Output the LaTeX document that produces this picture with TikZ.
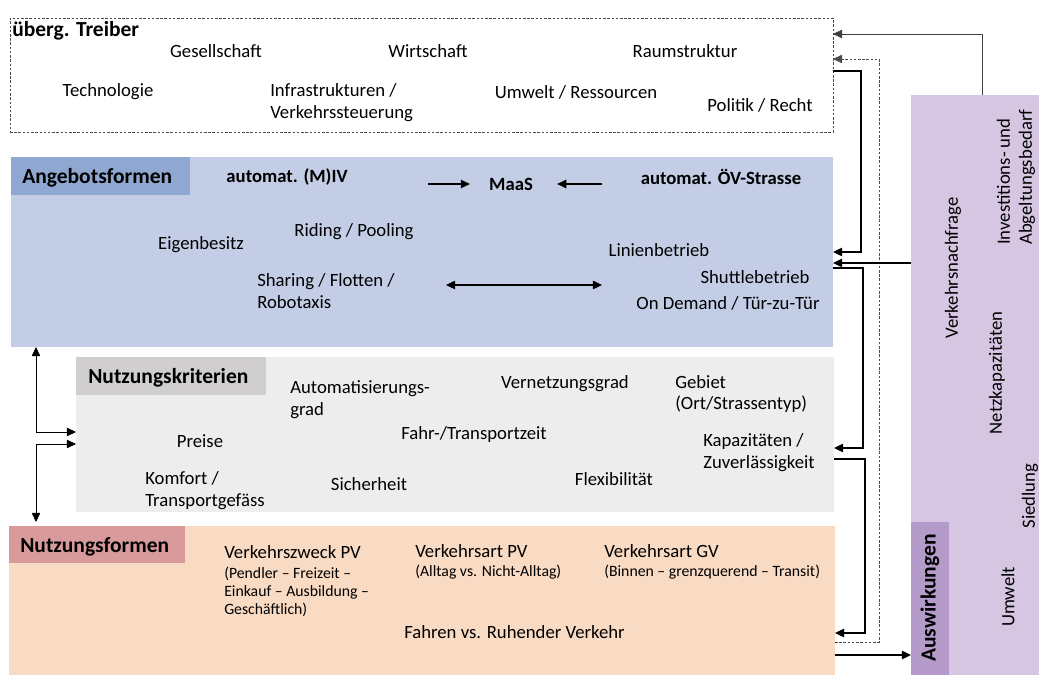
\documentclass[tikz,border=0pt]{standalone}
\usepackage{fontspec}
\setmainfont{Carlito}
\usetikzlibrary{arrows.meta,fit}
\definecolor{angebotBg}{HTML}{C3CDE5}
\definecolor{angebotHd}{HTML}{8FA8D2}
\definecolor{kritBg}{HTML}{EDEDED}
\definecolor{kritHd}{HTML}{D0CECE}
\definecolor{formBg}{HTML}{F9DAC3}
\definecolor{formHd}{HTML}{D99A9C}
\definecolor{wirkBg}{HTML}{D6C6E2}
\definecolor{wirkHd}{HTML}{B59BCA}
\tikzset{
  txt/.style={font=\fontsize{13.3}{15.6}\selectfont, inner sep=0pt, align=left},
  txtb/.style={txt, font=\fontsize{13.3}{15.6}\selectfont\bfseries},
  sm/.style={font=\fontsize{11.2}{12.9}\selectfont, inner sep=0pt, align=left},
  hd/.style={font=\fontsize{15.3}{18}\selectfont\bfseries, inner sep=0pt},
  area/.style={inner sep=0pt, outer sep=0pt, draw=none},
  arr/.style={-{Triangle[length=6.5pt,width=6pt]}},
  twoarr/.style={{Triangle[length=6.5pt,width=6pt]}-{Triangle[length=6.5pt,width=6pt]}},
  dotline/.style={draw=black!70, dash pattern=on 1.8pt off 1.2pt, thin},
  conn/.style={line width=1pt},
}
\begin{document}
\begin{tikzpicture}[x=0.025cm, y=-0.025cm]
\useasboundingbox (0,0) rectangle (1039,675);
% boxes
\node[area, fit={(11,157) (833,347)}, fill=angebotBg] (angebot) {};
\node[area, fit={(11,157) (190,195)}, fill=angebotHd] (angebotHd) {};
\node[area, fit={(76,357) (834,512)}, fill=kritBg] (nkrit) {};
\node[area, fit={(76,357) (266,395)}, fill=kritHd] (nkritHd) {};
\node[area, fit={(9,526) (835,675)}, fill=formBg] (nform) {};
\node[area, fit={(9,526) (185,563)}, fill=formHd] (nformHd) {};
\node[area, fit={(911,95) (1039,675)}, fill=wirkBg] (wirk) {};
\node[area, fit={(911,522) (949,675)}, fill=wirkHd] (aus) {};
\node[area, fit={(10,18) (833,132)}, dotline] (treiber) {};

% ueberg. Treiber
\node[hd, anchor=west] (treiberT) at (12,31) {überg. Treiber};
\node[txt] (ges) at (216,51) {Gesellschaft};
\node[txt] (wirt) at (428,51) {Wirtschaft};
\node[txt] (raum) at (685,51) {Raumstruktur};
\node[txt] (tech) at (108,92) {Technologie};
\node[txt, anchor=west] (infra) at (270,103) {Infrastrukturen /\\Verkehrssteuerung};
\node[txt] (umw) at (576,92) {Umwelt / Ressourcen};
\node[txt] (pol) at (760,105) {Politik / Recht};

% Angebotsformen
\node[hd, anchor=west] (angebotT) at (22,178) {Angebotsformen};
\node[txtb] (miv) at (287,177) {automat. (M)IV};
\node[txtb] (maas) at (511,184) {MaaS};
\node[txtb] (oev) at (721,177) {automat. ÖV-Strasse};
\node[txt] (eigen) at (201,245) {Eigenbesitz};
\node[txt] (riding) at (354,232) {Riding / Pooling};
\node[txt, anchor=west] (sharing) at (257,291) {Sharing / Flotten /\\Robotaxis};
\node[txt] (linie) at (659,250) {Linienbetrieb};
\node[txt] (shuttle) at (755,277) {Shuttlebetrieb};
\node[txt] (demand) at (728,303) {On Demand / Tür-zu-Tür};
\coordinate (mivA) at (428,184);
\coordinate (oevA) at (602,184);
\coordinate (pL) at (446,285);
\coordinate (pR) at (602,285);
\draw[arr, conn] (mivA) -- ([xshift=-0.475cm]maas.west);
\draw[arr, conn] (oevA) -- ([xshift=0.6cm]maas.east);
\draw[twoarr, conn] (pL) -- (pR);

% Nutzungskriterien
\node[hd, anchor=west] (nkritT) at (88,378) {Nutzungskriterien};
\node[txt, anchor=west] (auto) at (290,400) {Automatisierungs-\\grad};
\node[txt] (vernetz) at (565,384) {Vernetzungsgrad};
\node[txt, anchor=west] (gebiet) at (675,394) {Gebiet\\(Ort/Strassentyp)};
\node[txt] (preise) at (200,441) {Preise};
\node[txt] (fahrzeit) at (474,435) {Fahr-/Transportzeit};
\node[txt, anchor=west] (kapaz) at (703,453) {Kapazitäten /\\Zuverlässigkeit};
\node[txt, anchor=west] (komfort) at (145,491) {Komfort /\\Transportgefäss};
\node[txt] (sicher) at (369,484) {Sicherheit};
\node[txt] (flex) at (614,479) {Flexibilität};

% Nutzungsformen
\node[hd, anchor=west] (nformT) at (20,547) {Nutzungsformen};
\node[txt, anchor=west] (zweck) at (224,552) {Verkehrszweck PV};
\node[sm, anchor=west] (zweckS) at (224,592) {(Pendler -- Freizeit --\\Einkauf -- Ausbildung --\\Geschäftlich)};
\node[txt, anchor=west] (artPV) at (415,551) {Verkehrsart PV};
\node[sm, anchor=west] (artPVS) at (415,572) {(Alltag vs. Nicht-Alltag)};
\node[txt, anchor=west] (artGV) at (604,551) {Verkehrsart GV};
\node[sm, anchor=west] (artGVS) at (604,572) {(Binnen -- grenzquerend -- Transit)};
\node[txt, anchor=west] (fahren) at (404,632) {Fahren vs. Ruhender Verkehr};

% Auswirkungen
\node[hd, rotate=90] (ausT) at (930,598) {Auswirkungen};
\node[txt, rotate=90] (nachfrage) at (953,268) {Verkehrsnachfrage};
\node[txt, rotate=90, anchor=west] (invest) at (1016,245) {Investitions- und\\Abgeltungsbedarf};
\node[txt, rotate=90] (netz) at (997,373) {Netzkapazitäten};
\node[txt, rotate=90] (siedl) at (1030,496) {Siedlung};
\node[txt, rotate=90] (umwelt) at (1008,597) {Umwelt};

% connectors right
\draw[arr, black!75] (wirk.north -| 982,0) |- (treiber.east |- 0,34);
\draw[arr, dotline] (nform.east |- 0,642) -- ++(44,0) |- (treiber.east |- 0,59);
\draw[arr, conn] (treiber.east |- 0,71) -- ++(28,0) |- (angebot.east |- 0,252);
\draw[arr, conn] (wirk.west |- 0,263) -- (angebot.east |- 0,263);
\draw[arr, conn] (angebot.east |- 0,268) -- ++(30,0) |- (nkrit.east |- 0,448);
\draw[arr, conn] (nkrit.east |- 0,459) -- ++(31,0) |- (nform.east |- 0,633);
\draw[arr, conn] (nform.east |- 0,655) -- (aus.west |- 0,655);
% connectors left
\draw[twoarr] (angebot.south -| 36,0) |- (nkrit.west |- 0,432);
\draw[twoarr] ([yshift=0.1cm]nform.north -| 36,0) |- (nkrit.west |- 0,444);
\end{tikzpicture}
\end{document}
